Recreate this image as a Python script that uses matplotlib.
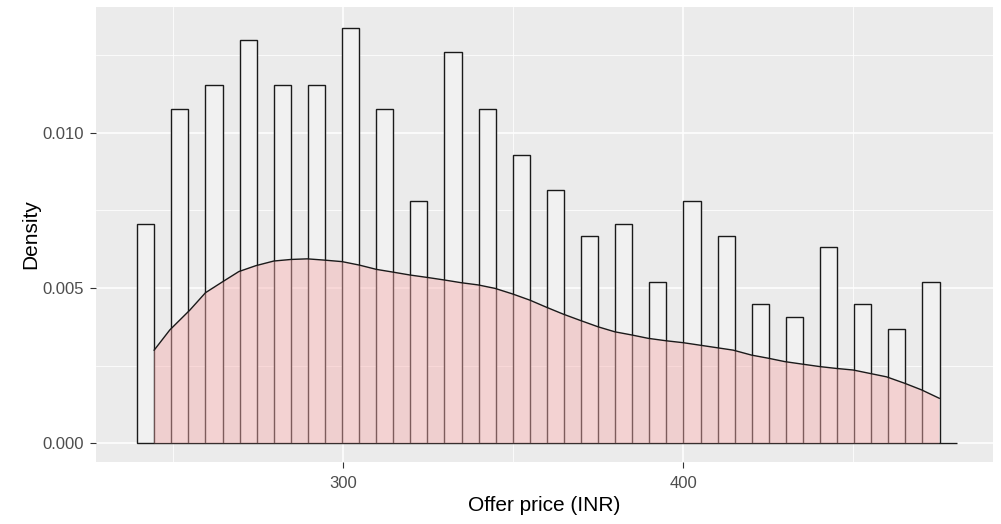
import numpy as np
import matplotlib
matplotlib.use('Agg')
from matplotlib import pyplot as plt

# histogram: 48 bins, every other one empty
bin_lo, bin_hi, n_bins = 239.4, 480.4, 48
heights = [0.00706, 0, 0.01075, 0, 0.01153, 0, 0.01298, 0, 0.01153, 0,
           0.01153, 0, 0.01337, 0, 0.01075, 0, 0.00780, 0, 0.01260, 0,
           0.01075, 0, 0.00927, 0, 0.00815, 0, 0.00667, 0, 0.00706, 0,
           0.00519, 0, 0.00780, 0, 0.00667, 0, 0.00449, 0, 0.00408, 0,
           0.00633, 0, 0.00449, 0, 0.00369, 0, 0.00519, 0]

# density curve
dens_x = [244.4, 249.0, 254.9, 259.5, 264.5, 269.3, 274.3, 279.6, 284.6, 289.4,
          294.4, 299.7, 304.7, 309.8, 313.7, 319.6, 324.8, 329.7, 334.8, 339.7,
          344.6, 349.8, 354.9, 359.8, 364.7, 369.9, 375.0, 379.9, 384.8, 389.7,
          395.1, 400.0, 404.9, 409.8, 414.7, 420.1, 425.0, 429.9, 435.0, 440.2,
          445.1, 450.0, 454.9, 459.8, 465.2, 470.1, 475.3]
dens_y = [3.00, 3.65, 4.29, 4.85, 5.20, 5.53, 5.72, 5.87, 5.92, 5.94,
          5.90, 5.85, 5.74, 5.60, 5.53, 5.42, 5.34, 5.26, 5.17, 5.10,
          4.99, 4.81, 4.61, 4.38, 4.16, 3.95, 3.75, 3.59, 3.49, 3.38,
          3.30, 3.24, 3.16, 3.08, 3.00, 2.84, 2.74, 2.63, 2.55, 2.47,
          2.41, 2.36, 2.25, 2.14, 1.93, 1.72, 1.45]
dens_y = [v / 1000 for v in dens_y]

xticks = [300, 400]
yticks = [0.000, 0.005, 0.010]
ytick_labels = ['0.000', '0.005', '0.010']

plt.rcParams['font.family'] = ['Liberation Sans', 'DejaVu Sans']

fig = plt.figure(figsize=(10.01, 5.24), dpi=100)
W, H = 1001, 524
ax = fig.add_axes([96 / W, (H - 462) / H, (993 - 96) / W, (462 - 7) / H])
ax.set_facecolor('#EBEBEB')
for s in ax.spines.values():
    s.set_visible(False)

edges = np.linspace(bin_lo, bin_hi, n_bins + 1)
ax.bar(edges[:-1], heights, width=np.diff(edges), align='edge',
       facecolor='#F1F1F1', edgecolor='#1a1a1a', linewidth=1.0, zorder=2)

# semi-transparent density area on top of the bars
ax.fill_between(dens_x, 0, dens_y, facecolor='#F6ADAD', alpha=0.45,
                linewidth=0, zorder=3)
ax.plot(dens_x, dens_y, color='#1a1a1a', linewidth=1.0, zorder=4)

ax.set_xlim(227.3, 491.1)
ax.set_ylim(-0.000602, 0.01405)

ax.set_xticks(xticks)
ax.set_xticks([250, 350, 450], minor=True)
ax.set_yticks(yticks)
ax.set_yticklabels(ytick_labels)
ax.set_yticks([0.0025, 0.0075, 0.0125], minor=True)
ax.grid(which='major', color='white', linewidth=1.1, zorder=0)
ax.grid(which='minor', color='white', linewidth=0.55, zorder=0)
ax.set_axisbelow(True)
ax.tick_params(which='major', length=4.5, width=0.8, color='#333333',
               labelcolor='#4D4D4D', labelsize=12)
ax.tick_params(axis='x', pad=5.5)
ax.tick_params(axis='y', pad=4.5)
ax.tick_params(which='minor', length=0)

ax.set_xlabel('Offer price (INR)', fontsize=15, color='black', labelpad=4)
ax.set_ylabel('Density', fontsize=15, color='black', labelpad=1)

fig.savefig('out.png', dpi=100)
